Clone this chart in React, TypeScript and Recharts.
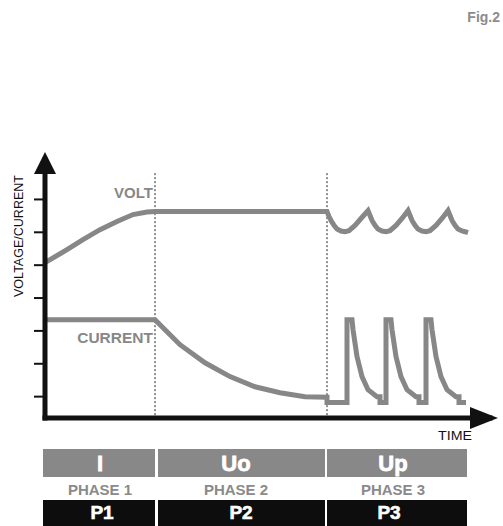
import React from 'react';
import { LineChart, Line, XAxis, YAxis, ReferenceLine, ReferenceDot } from 'recharts';

// time axis in arbitrary units, value axis in tick steps
const voltTime = [
  0, 22, 38, 55, 72, 88, 102, 110, 282,
  284, 286, 289, 292, 296, 300, 304, 310, 316, 323,
  325, 327, 330, 333, 337, 341, 345, 351, 357, 363,
  365, 367, 370, 373, 377, 381, 385, 391, 397, 403,
  405, 407, 410, 413, 417, 421, 423,
];
const voltValue = [
  5.08, 5.47, 5.78, 6.08, 6.33, 6.54, 6.62, 6.63, 6.63,
  6.48, 6.36, 6.21, 6.1, 6.04, 6.02, 6.05, 6.21, 6.42, 6.66,
  6.51, 6.36, 6.21, 6.1, 6.04, 6.02, 6.05, 6.21, 6.42, 6.66,
  6.51, 6.36, 6.21, 6.1, 6.04, 6.02, 6.05, 6.21, 6.42, 6.66,
  6.51, 6.36, 6.21, 6.1, 6.04, 6.01, 5.99,
];

const currentTime = [
  0, 110, 135, 160, 185, 210, 235, 260, 282, 282,
  302, 302, 307, 308, 312, 317, 323, 332, 335, 335,
  341, 341, 346, 347, 351, 356, 362, 371, 374, 374,
  381, 381, 386, 387, 391, 396, 402, 411, 414, 414,
  421,
];
const currentValue = [
  3.34, 3.34, 2.58, 2.03, 1.61, 1.3, 1.12, 1.0, 0.98, 0.82,
  0.82, 3.34, 3.34, 3.04, 2.22, 1.61, 1.21, 1.0, 1.0, 0.82,
  0.82, 3.34, 3.34, 3.04, 2.22, 1.61, 1.21, 1.0, 1.0, 0.82,
  0.82, 3.34, 3.34, 3.04, 2.22, 1.61, 1.21, 1.0, 1.0, 0.82,
  0.82,
];

const valueTicks = [1, 2, 3, 4, 5, 6, 7];
const phaseEnds = [110, 282];
const timeDomain: [number, number] = [0, 445];
const valueDomain: [number, number] = [0.35, 8.2];

const phaseCodes = ['I', 'Uo', 'Up'];
const phaseNames = ['PHASE 1', 'PHASE 2', 'PHASE 3'];
const phaseTags = ['P1', 'P2', 'P3'];

const voltData = voltTime.map((t, i) => ({ t, v: voltValue[i] }));
const currentData = currentTime.map((t, i) => ({ t, v: currentValue[i] }));

const FONT = '"Liberation Sans", Arial, sans-serif';
const GREY = '#878787';
const INK = '#111111';

// table columns: [left, width, text centre]
const cols = [
  [43, 112, 100],
  [158, 167, 236],
  [327, 140, 393],
];
const tagCentres = [102, 241, 389];

export default function App() {
  return (
    <div style={{ position: 'absolute', left: 0, top: 0, width: 503, height: 526, background: '#fff' }}>
      <LineChart
        width={503}
        height={526}
        margin={{ top: 160, right: 13, bottom: 106, left: 0 }}
      >
        <XAxis
          type="number"
          dataKey="t"
          domain={timeDomain}
          allowDataOverflow
          height={2}
          tick={false}
          tickLine={false}
          axisLine={{ stroke: INK, strokeWidth: 5, strokeLinecap: 'square' }}
        />
        <YAxis
          type="number"
          dataKey="v"
          domain={valueDomain}
          allowDataOverflow
          ticks={valueTicks}
          width={45}
          tickSize={11}
          tickFormatter={() => ''}
          tickLine={{ stroke: INK, strokeWidth: 2 }}
          axisLine={{ stroke: INK, strokeWidth: 5, strokeLinecap: 'square' }}
        />
        {phaseEnds.map((x) => (
          <ReferenceLine
            key={x}
            segment={[
              { x, y: 7.8 },
              { x, y: valueDomain[0] },
            ]}
            stroke="#222"
            strokeWidth={1}
            strokeDasharray="2 2"
            ifOverflow="visible"
          />
        ))}
        <Line
          data={voltData}
          dataKey="v"
          type="linear"
          stroke={GREY}
          strokeWidth={5}
          dot={false}
          isAnimationActive={false}
        />
        <Line
          data={currentData}
          dataKey="v"
          type="linear"
          stroke={GREY}
          strokeWidth={5}
          dot={false}
          isAnimationActive={false}
        />
        <ReferenceDot
          x={108}
          y={7.03}
          ifOverflow="visible"
          shape={(p: any) => (
            <text x={p.cx} y={p.cy} textAnchor="end" fontFamily={FONT} fontWeight="bold" fontSize={15} fill={GREY}>
              VOLT
            </text>
          )}
        />
        <ReferenceDot
          x={108}
          y={2.64}
          ifOverflow="visible"
          shape={(p: any) => (
            <text x={p.cx} y={p.cy} textAnchor="end" fontFamily={FONT} fontWeight="bold" fontSize={15.5} fill={GREY}>
              CURRENT
            </text>
          )}
        />
        <ReferenceDot
          x={timeDomain[1]}
          y={valueDomain[0]}
          ifOverflow="visible"
          shape={(p: any) => (
            <polygon
              points={`${p.cx + 8},${p.cy} ${p.cx - 20},${p.cy - 11} ${p.cx - 20},${p.cy + 11}`}
              fill={INK}
            />
          )}
        />
        <ReferenceDot
          x={timeDomain[0]}
          y={valueDomain[1]}
          ifOverflow="visible"
          shape={(p: any) => (
            <polygon
              points={`${p.cx},${p.cy - 8} ${p.cx - 11},${p.cy + 14} ${p.cx + 11},${p.cy + 14}`}
              fill={INK}
            />
          )}
        />
      </LineChart>

      <svg
        width={503}
        height={526}
        style={{ position: 'absolute', left: 0, top: 0, pointerEvents: 'none' }}
        fontFamily={FONT}
      >
        <text x={500} y={22} textAnchor="end" fontSize={14} fontWeight="bold" fill="#8c8c8c">
          Fig.2
        </text>
        <text
          transform="translate(23 236) rotate(-90)"
          textAnchor="middle"
          fontSize={13.5}
          textLength={122}
          lengthAdjust="spacingAndGlyphs"
          fill={INK}
        >
          VOLTAGE/CURRENT
        </text>
        <text x={455} y={440} textAnchor="middle" fontSize={12.5} textLength={34} lengthAdjust="spacingAndGlyphs" fill={INK}>
          TIME
        </text>
        {cols.map(([left, w, c], i) => (
          <g key={i}>
            <rect x={left} y={449} width={w} height={28} fill="#888888" />
            <text x={c} y={471} textAnchor="middle" fontSize={22} fontWeight="bold" fill="#fff" stroke="#fff" strokeWidth={0.8}>
              {phaseCodes[i]}
            </text>
            <text x={c} y={495} textAnchor="middle" fontSize={15} fontWeight="bold" fill="#8a8a8a">
              {phaseNames[i]}
            </text>
            <rect x={left} y={500} width={w} height={26} fill="#0d0d0d" />
            <text x={tagCentres[i]} y={519} textAnchor="middle" fontSize={19} fontWeight="bold" fill="#fff" stroke="#fff" strokeWidth={0.6}>
              {phaseTags[i]}
            </text>
          </g>
        ))}
      </svg>
    </div>
  );
}
